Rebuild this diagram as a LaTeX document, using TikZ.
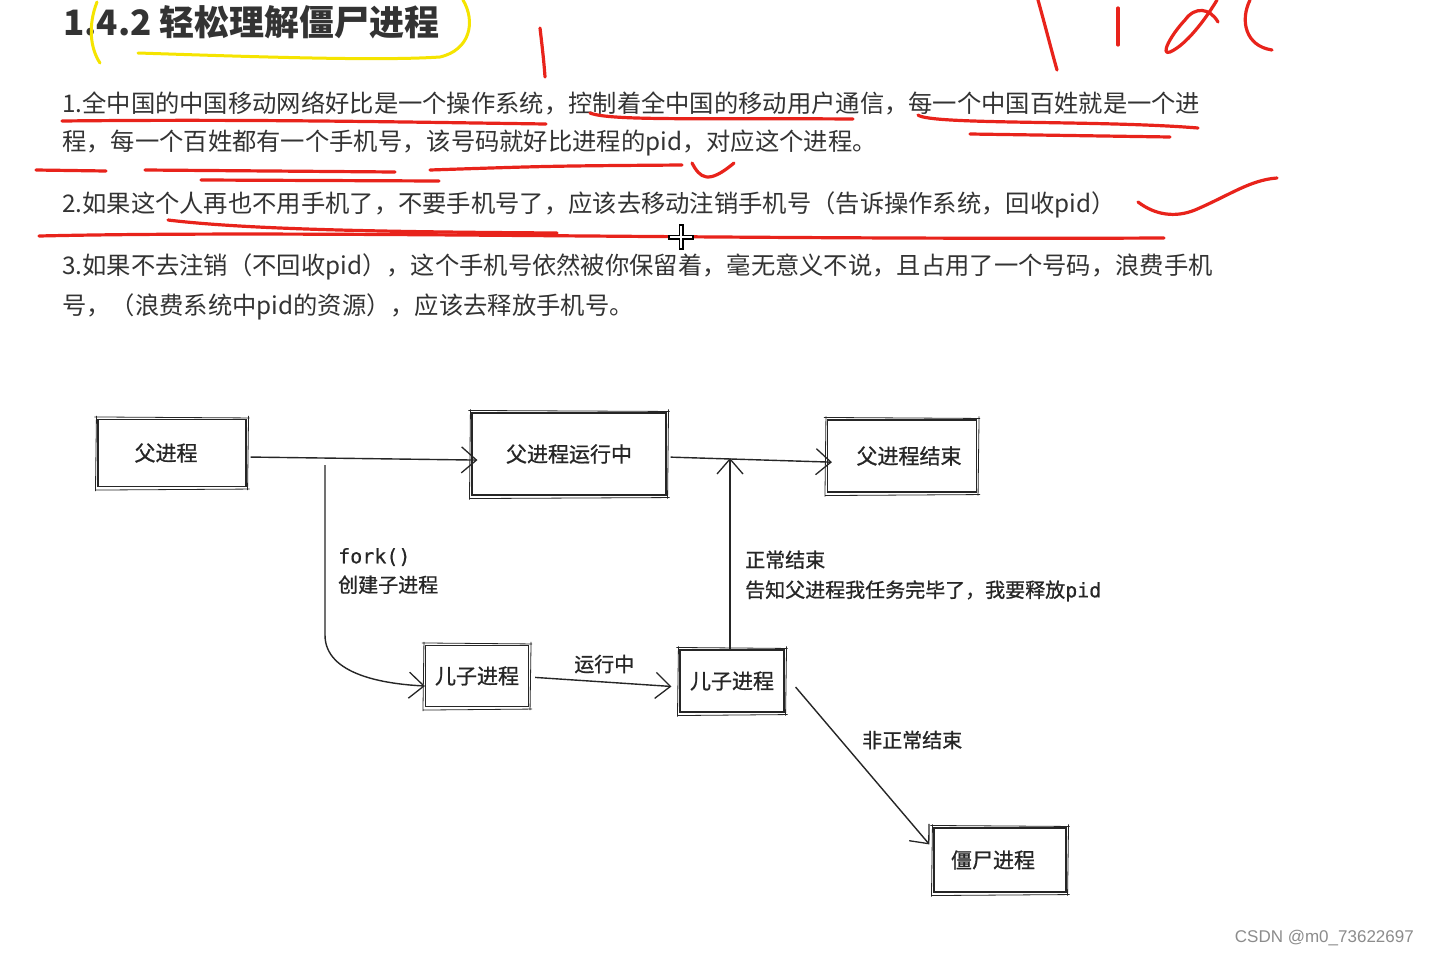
\documentclass[tikz,border=0pt]{standalone}
\usepackage{fontspec}
\setmainfont{Noto Sans CJK SC}
\newfontfamily\drawfont[FakeBold=0.9]{Noto Sans CJK SC}
\newfontfamily\monof[FakeBold=0.6]{DejaVu Sans Mono}
\newfontfamily\wmfont{Liberation Sans}
\usetikzlibrary{arrows.meta,positioning,calc}
\definecolor{txt}{HTML}{333333}
\definecolor{pen}{HTML}{262626}
\definecolor{inkred}{HTML}{E8231B}
\definecolor{hlyellow}{HTML}{F5E400}

% second stroke for the hand drawn boxes
\newcommand{\roughbox}[1]{%
  \draw[pen, line width=0.8pt]
    ([shift={(-3,-2)}]#1.north west) -- ([shift={(3,-1)}]#1.north east)
    ([shift={(2,-3)}]#1.north east) -- ([shift={(1,3)}]#1.south east)
    ([shift={(3,2)}]#1.south east) -- ([shift={(-2,3)}]#1.south west)
    ([shift={(-2,4)}]#1.south west) -- ([shift={(-1,-3)}]#1.north west);}

\begin{document}
\begin{tikzpicture}[
    x=1pt, y=-1pt,
    heading/.style={anchor=west, inner sep=0pt, text=txt, font=\fontsize{35}{40}\selectfont\bfseries},
    body/.style={anchor=west, inner sep=0pt, text=txt, font=\fontsize{24.3}{28}\selectfont},
    proc/.style={draw=pen, line width=1.1pt, inner sep=0pt, text=pen, font=\drawfont\fontsize{21}{24}\selectfont},
    lbl/.style={inner sep=0pt, text=pen, font=\drawfont\fontsize{20}{29}\selectfont},
    arr/.style={draw=pen, line width=1.4pt, -{Straight Barb[length=15pt, width=26pt, line width=1.3pt]}},
    ink/.style={draw=inkred, line width=3.2pt, line cap=round, line join=round},
    hl/.style={draw=hlyellow, line width=3pt, line cap=round}
]
\fill[white] (0,0) rectangle (1429,956);
\useasboundingbox (0,0) rectangle (1429,956);

% notes
\node[heading] (ttl) at (63,22) {1.4.2 轻松理解僵尸进程};
\node[body] (l1) at (62,103) {1.全中国的中国移动网络好比是一个操作系统，控制着全中国的移动用户通信，每一个中国百姓就是一个进};
\node[body] (l2) at (62,143) {程，每一个百姓都有一个手机号，该号码就好比进程的pid，对应这个进程。};
\node[body] (l3) at (62,205) {2.如果这个人再也不用手机了，不要手机号了，应该去移动注销手机号（告诉操作系统，回收pid）};
\node[body] (l4) at (62,267) {3.如果不去注销（不回收pid），这个手机号依然被你保留着，毫无意义不说，且占用了一个号码，浪费手机};
\node[body] (l5) at (62,307) {号，（浪费系统中pid的资源），应该去释放手机号。};

% pen marks
\draw[hl] (97,2) .. controls (88,25) and (90,48) .. (100,63);
\draw[hl] (138,53) .. controls (260,57) and (380,61) .. (440,57) .. controls (470,50) and (476,22) .. (463,0);
\draw[ink] (540,28) .. controls (542,45) and (544,62) .. (545,77);
\draw[ink] (1038,0) .. controls (1045,25) and (1050,45) .. (1057,70);
\draw[ink] (1118,8) -- (1118,45);
\draw[ink] (1218,22) .. controls (1210,8) and (1195,6) .. (1185,20) .. controls (1170,36) and (1160,56) .. (1170,52) .. controls (1186,45) and (1205,20) .. (1217,0);
\draw[ink] (1250,0) .. controls (1240,20) and (1245,46) .. (1272,50);
\draw[ink] (62,121) .. controls (250,119) and (400,122) .. (546,124);
\draw[ink] (590,113) .. controls (610,121) and (700,118) .. (853,119);
\draw[ink] (918,115) .. controls (930,125) and (1100,120) .. (1198,128);
\draw[ink] (970,134) -- (1170,137);
\draw[ink] (36,170) -- (106,171);
\draw[ink] (145,170) -- (395,172);
\draw[ink] (201,180) -- (439,181);
\draw[ink] (430,170) .. controls (550,166) .. (682,165);
\draw[ink] (692,163) .. controls (700,178) and (708,185) .. (734,163);
\draw[ink] (168,220) .. controls (250,230) and (400,232) .. (557,233);
\draw[ink] (39,236) .. controls (300,230) and (700,240) .. (1164,238);
\draw[ink] (1138,202) .. controls (1155,215) and (1175,218) .. (1195,210) .. controls (1230,195) and (1250,180) .. (1277,178);

% mouse cursor
\draw[line width=5pt] (668,237) -- (694,237) (681,224) -- (681,250);
\draw[white, line width=2pt] (670,237) -- (692,237) (681,226) -- (681,248);

% processes
\node[proc, minimum width=148pt, minimum height=67pt] (fa) at (172,453) {\hspace{-12pt}父进程};
\node[proc, minimum width=194pt, minimum height=82pt] (farun) at (569,454) {父进程运行中};
\node[proc, minimum width=149pt, minimum height=72pt] (faend) at (902,456) {\hspace{14pt}父进程结束};
\node[proc, minimum width=103pt, minimum height=61pt] (son1) at (477,676) {儿子进程};
\node[proc, minimum width=104pt, minimum height=62pt] (son2) at (732,681) {儿子进程};
\node[proc, minimum width=132pt, minimum height=64pt] (zombie) at (1000,860) {\hspace{-14pt}僵尸进程};
\roughbox{fa}
\roughbox{farun}
\roughbox{faend}
\roughbox{son1}
\roughbox{son2}
\roughbox{zombie}

\coordinate (fk) at (325,465);
\coordinate (jn) at (730,458);

\draw[arr, shorten <=4pt, shorten >=-6pt] ([yshift=-4pt]fa.east) -- ([yshift=-6pt]farun.west);
\draw[arr, shorten <=4pt, shorten >=-5pt] ([yshift=-3pt]farun.east) -- ([yshift=-6pt]faend.west);
\draw[arr] (fk) -- ++(0,170) .. controls +(0,40) and +(-40,-2) .. ([yshift=-10pt]son1.west);
\draw[arr, shorten <=6pt, shorten >=8pt] ([yshift=-1pt]son1.east) -- ([yshift=-6pt]son2.west)
    node[lbl, midway, above=8pt] (runl) {运行中};
\draw[arr] (son2.north -| jn) -- (jn);
\draw[arr] ([shift={(11,6)}]son2.east) -- ([shift={(-4,17)}]zombie.north west);

\node[lbl, anchor=west, align=left] (forkl) at (338,571) {{\monof fork()}\\创建子进程};
\node[lbl, anchor=west, align=left, font=\drawfont\fontsize{20}{30}\selectfont] (okl) at (745,576) {正常结束\\告知父进程我任务完毕了，我要释放{\monof pid}};
\node[lbl, anchor=west] (badl) at (862,740) {非正常结束};

\node[anchor=east, inner sep=0pt, text=black!45, font=\wmfont\fontsize{17}{20}\selectfont] (wm) at (1414,938) {CSDN @m0\_73622697};
\end{tikzpicture}
\end{document}
